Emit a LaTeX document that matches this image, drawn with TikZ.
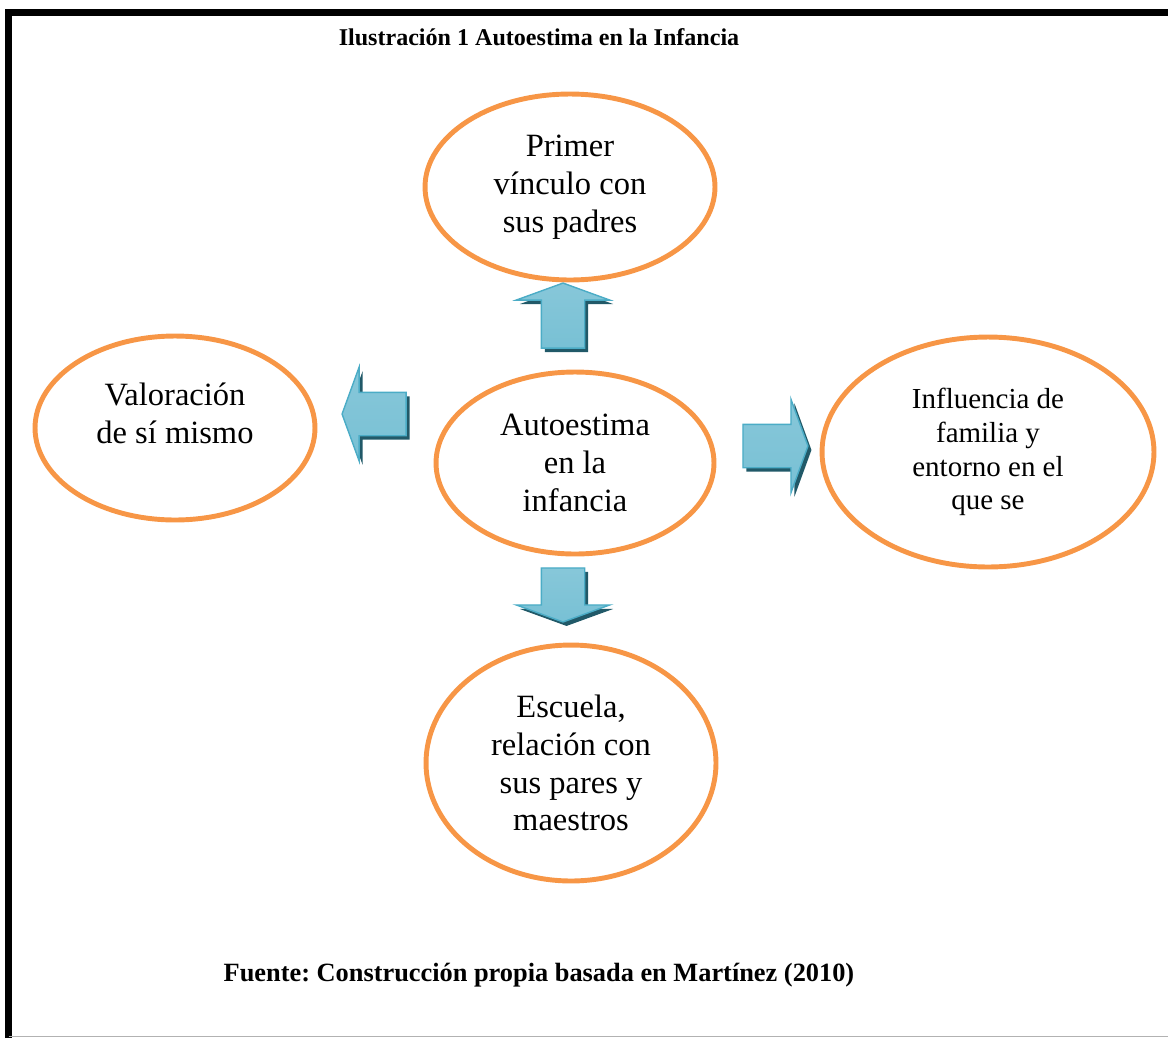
\documentclass[tikz,border=0pt]{standalone}
\usepackage{fontspec}
\setmainfont{Liberation Serif}
\frenchspacing
\usetikzlibrary{shapes.geometric,shapes.arrows,shadows}
\definecolor{ringorange}{RGB}{247,150,70}
\definecolor{arrowlight}{RGB}{150,206,222}
\definecolor{arrowmid}{RGB}{75,172,198}
\definecolor{arrowdark}{RGB}{33,89,104}

\begin{document}
\begin{tikzpicture}[x=0.02cm, y=-0.02cm,
ring/.style={shape=ellipse, draw=ringorange, line width=2.8pt, inner sep=0pt, align=center, font=\fontsize{18.5}{21.5}\selectfont},
blockarrow/.style={shape=single arrow, inner sep=0.42cm, single arrow head extend=0.5cm, single arrow tip angle=140,
  draw=arrowmid, line width=0.8pt, top color=arrowlight!80!arrowmid, middle color=arrowmid, bottom color=arrowlight!60!arrowmid,
  general shadow={fill=arrowdark, shadow xshift=0.07cm, shadow yshift=-0.08cm}}]
\useasboundingbox (0,0) rectangle (1168,1038);
% frame
\draw[line width=4pt] (8.5,1038) -- (8.5,12.5) -- (1168,12.5);
\draw[gray!60, line width=0.6pt] (8.5,1036.5) -- (1168,1036.5);

\node (titulo) at (539,37) {\fontsize{13.7}{15}\selectfont\bfseries Ilustración 1 Autoestima en la Infancia};

\node (autoest)[ring, minimum width=5.56cm, minimum height=3.64cm] at (575,463) {Autoestima\\en la\\infancia};
\node (vinculo)[ring, minimum width=5.8cm, minimum height=3.72cm] at (570,187) {Primer\\vínculo con\\sus padres};
\node (valor)[ring, minimum width=5.6cm, minimum height=3.68cm] at (175,428) {Valoración\\de sí mismo\\[-0.16cm]};
\node (influ)[ring, minimum width=6.64cm, minimum height=4.6cm, font=\fontsize{16.5}{19.3}\selectfont] at (988,452) {Influencia de\\familia y\\entorno en el\\que se};
\node (escuela)[ring, minimum width=5.8cm, minimum height=4.72cm] at (571,763) {Escuela,\\relación con\\sus pares y\\maestros};

\node (flechaup)[blockarrow, shape border rotate=90, minimum height=1.3cm] at (563,319.5) {};
\node (flechaizq)[blockarrow, shape border rotate=180, minimum height=1.28cm] at (378,414) {};
\node (flechader)[blockarrow, shape border rotate=0, minimum height=1.3cm] at (771.5,446) {};
\node (flechadown)[blockarrow, shape border rotate=270, minimum height=1.08cm] at (563,591) {};

\node (fuente) at (539,975) {\fontsize{15}{17}\selectfont\bfseries Fuente: Construcción propia basada en Martínez (2010)};
\end{tikzpicture}
\end{document}
